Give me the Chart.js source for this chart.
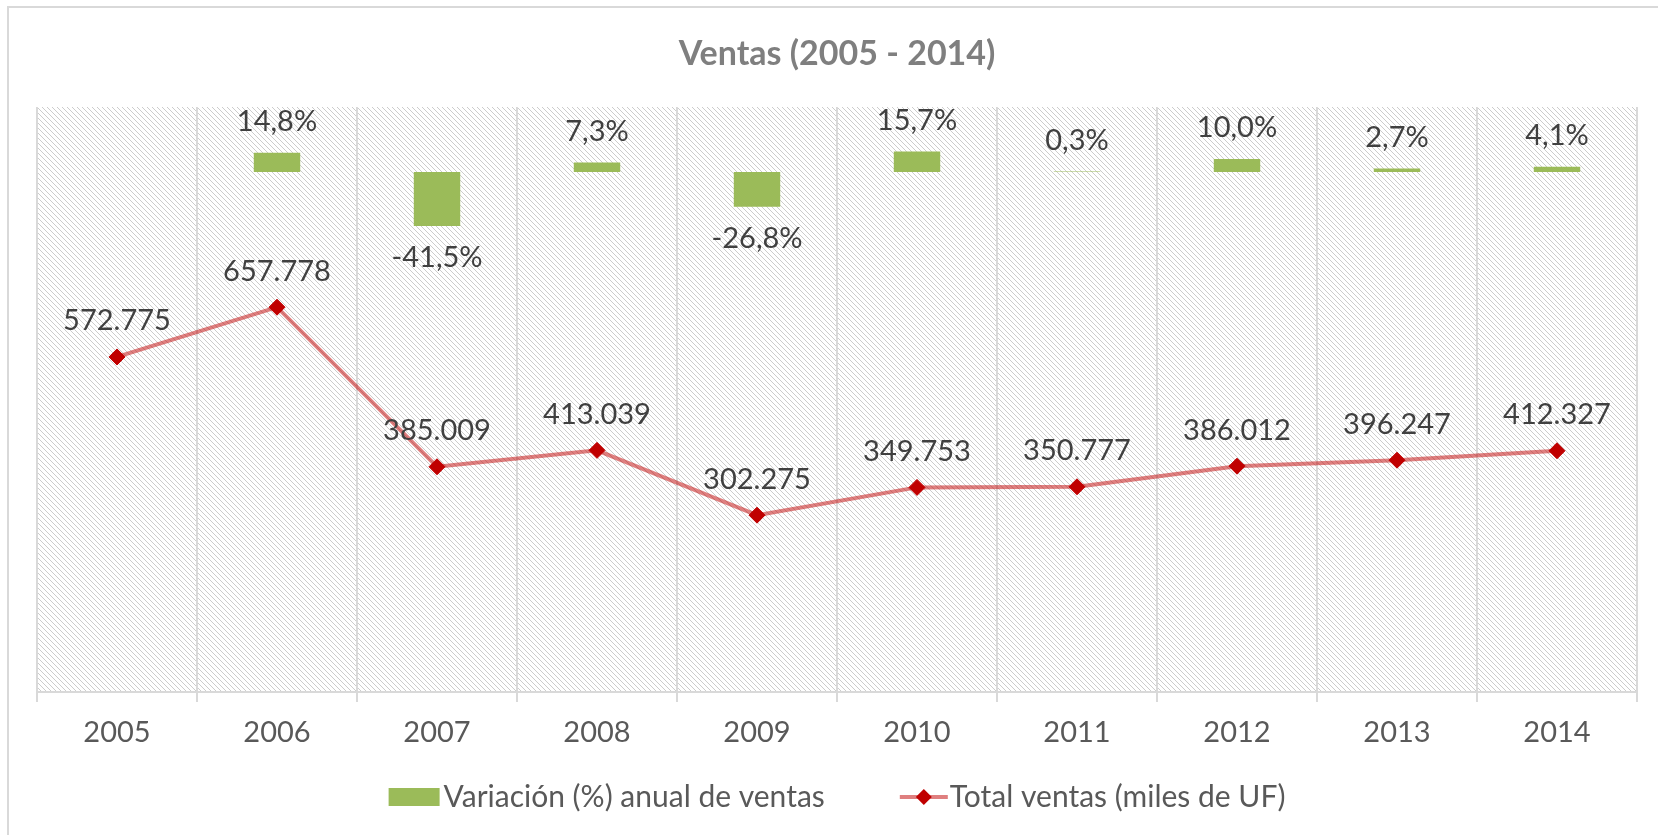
<!DOCTYPE html>
<html lang="es">
<head>
<meta charset="utf-8">
<title>Ventas (2005 - 2014)</title>
<script src="https://cdn.jsdelivr.net/npm/chart.js@4.4.1/dist/chart.umd.min.js"></script>
<style>
    html, body { margin: 0; padding: 0; background: #fff; }
    #chart { display: block; }
</style>
</head>
<body>
<canvas id="chart" width="1658" height="835"></canvas>
<script>
// data
const years = ['2005','2006','2007','2008','2009','2010','2011','2012','2013','2014'];
const variacion = [null, 14.8, -41.5, 7.3, -26.8, 15.7, 0.3, 10.0, 2.7, 4.1];
const totalVentas = [572775, 657778, 385009, 413039, 302275, 349753, 350777, 386012, 396247, 412327];

const titleText = 'Ventas (2005 - 2014)';
const barLabel = 'Variación (%) anual de ventas';
const lineLabel = 'Total ventas (miles de UF)';

const FONT = 'Lato, "Open Sans", sans-serif';
const GREEN = '#9bbb59';
const RED = '#c00000';

function makeHatch(){
    let c = document.createElement('canvas');
    c.width = 5; c.height = 5;
    let g = c.getContext('2d');
    g.fillStyle = '#ffffff';
    g.fillRect(0, 0, 5, 5);
    g.fillStyle = '#cccccc';
    for(let i = 0; i < 5; i++){
        g.fillRect(i, i, 1, 1);
    }
    return g.createPattern(c, 'repeat');
}

function fmtPct(v){
    return v.toFixed(1).replace('.', ',') + '%';
}
function fmtMiles(v){
    return Math.round(v).toString().replace(/\B(?=(\d{3})+(?!\d))/g, '.');
}

// border of the chart box + hatched plot area
const background = {
    id: 'background',
    beforeDraw(chart){
        const ctx = chart.ctx;
        const a = chart.chartArea;
        ctx.save();
        ctx.strokeStyle = '#d9d9d9';
        ctx.lineWidth = 2;
        ctx.beginPath();
        ctx.moveTo(8, chart.height + 2);
        ctx.lineTo(8, 7);
        ctx.lineTo(chart.width + 2, 7);
        ctx.stroke();
        ctx.fillStyle = makeHatch();
        ctx.fillRect(a.left, a.top, a.right - a.left, a.bottom - a.top);
        ctx.restore();
    }
};

// title, data labels and legend
const decorations = {
    id: 'decorations',
    afterDatasetsDraw(chart){
        const ctx = chart.ctx;
        const a = chart.chartArea;
        const cx = (a.left + a.right) / 2;
        ctx.save();

        ctx.fillStyle = '#7f7f7f';
        ctx.font = 'bold 34px ' + FONT;
        ctx.textAlign = 'center';
        ctx.textBaseline = 'middle';
        ctx.fillText(titleText, cx, 54);

        ctx.font = '29px ' + FONT;
        ctx.fillStyle = '#404040';
        chart.getDatasetMeta(0).data.forEach((bar, i) => {
            const v = variacion[i];
            if(v === null) return;
            const y = v >= 0 ? bar.y - 31 : bar.y + 32;
            ctx.fillText(fmtPct(v), bar.x, y);
        });
        chart.getDatasetMeta(1).data.forEach((pt, i) => {
            ctx.fillText(fmtMiles(totalVentas[i]), pt.x, pt.y - 36);
        });

        // legend
        ctx.font = '30px ' + FONT;
        ctx.textAlign = 'left';
        const w1 = ctx.measureText(barLabel).width;
        const w2 = ctx.measureText(lineLabel).width;
        const total = 51 + 4 + w1 + 75 + 48 + 2 + w2;
        let x = cx - total / 2;
        const ly = 797;
        ctx.fillStyle = GREEN;
        ctx.fillRect(x, ly - 9, 51, 18);
        x += 55;
        ctx.fillStyle = '#595959';
        ctx.fillText(barLabel, x, ly);
        x += w1 + 75;
        ctx.strokeStyle = 'rgba(192,0,0,0.5)';
        ctx.lineWidth = 4;
        ctx.beginPath();
        ctx.moveTo(x, ly);
        ctx.lineTo(x + 48, ly);
        ctx.stroke();
        ctx.fillStyle = RED;
        ctx.beginPath();
        ctx.moveTo(x + 24, ly - 8);
        ctx.lineTo(x + 32, ly);
        ctx.lineTo(x + 24, ly + 8);
        ctx.lineTo(x + 16, ly);
        ctx.closePath();
        ctx.fill();
        x += 50;
        ctx.fillStyle = '#595959';
        ctx.fillText(lineLabel, x, ly);

        ctx.restore();
    }
};

new Chart(document.getElementById('chart'), {
    type: 'bar',
    data: {
        labels: years,
        datasets: [
            {
                type: 'bar',
                label: barLabel,
                data: variacion,
                backgroundColor: GREEN,
                borderWidth: 0,
                yAxisID: 'y1',
                categoryPercentage: 1,
                barPercentage: 0.29,
                order: 2
            },
            {
                type: 'line',
                label: lineLabel,
                data: totalVentas,
                borderColor: 'rgba(192,0,0,0.5)',
                borderWidth: 4,
                tension: 0,
                pointStyle: 'rectRot',
                pointRadius: 8,
                pointBackgroundColor: RED,
                pointBorderColor: RED,
                pointBorderWidth: 1,
                yAxisID: 'y',
                order: 1
            }
        ]
    },
    options: {
        responsive: false,
        animation: false,
        devicePixelRatio: 1,
        layout: {
            padding: { left: 37, right: 21, top: 107, bottom: 83 }
        },
        plugins: {
            legend: { display: false },
            title: { display: false },
            tooltip: { enabled: false }
        },
        scales: {
            x: {
                offset: true,
                grid: {
                    offset: true,
                    color: '#d9d9d9',
                    lineWidth: 2,
                    tickLength: 10
                },
                border: { color: '#d9d9d9', width: 2 },
                ticks: {
                    color: '#595959',
                    font: { family: FONT, size: 29 },
                    padding: 13,
                    maxRotation: 0
                },
                afterFit(axis){ axis.height = 60; }
            },
            y: {
                display: false,
                min: 0,
                max: 1000000
            },
            y1: {
                display: false,
                min: -400,
                max: 50
            }
        }
    },
    plugins: [background, decorations]
});
</script>
</body>
</html>
